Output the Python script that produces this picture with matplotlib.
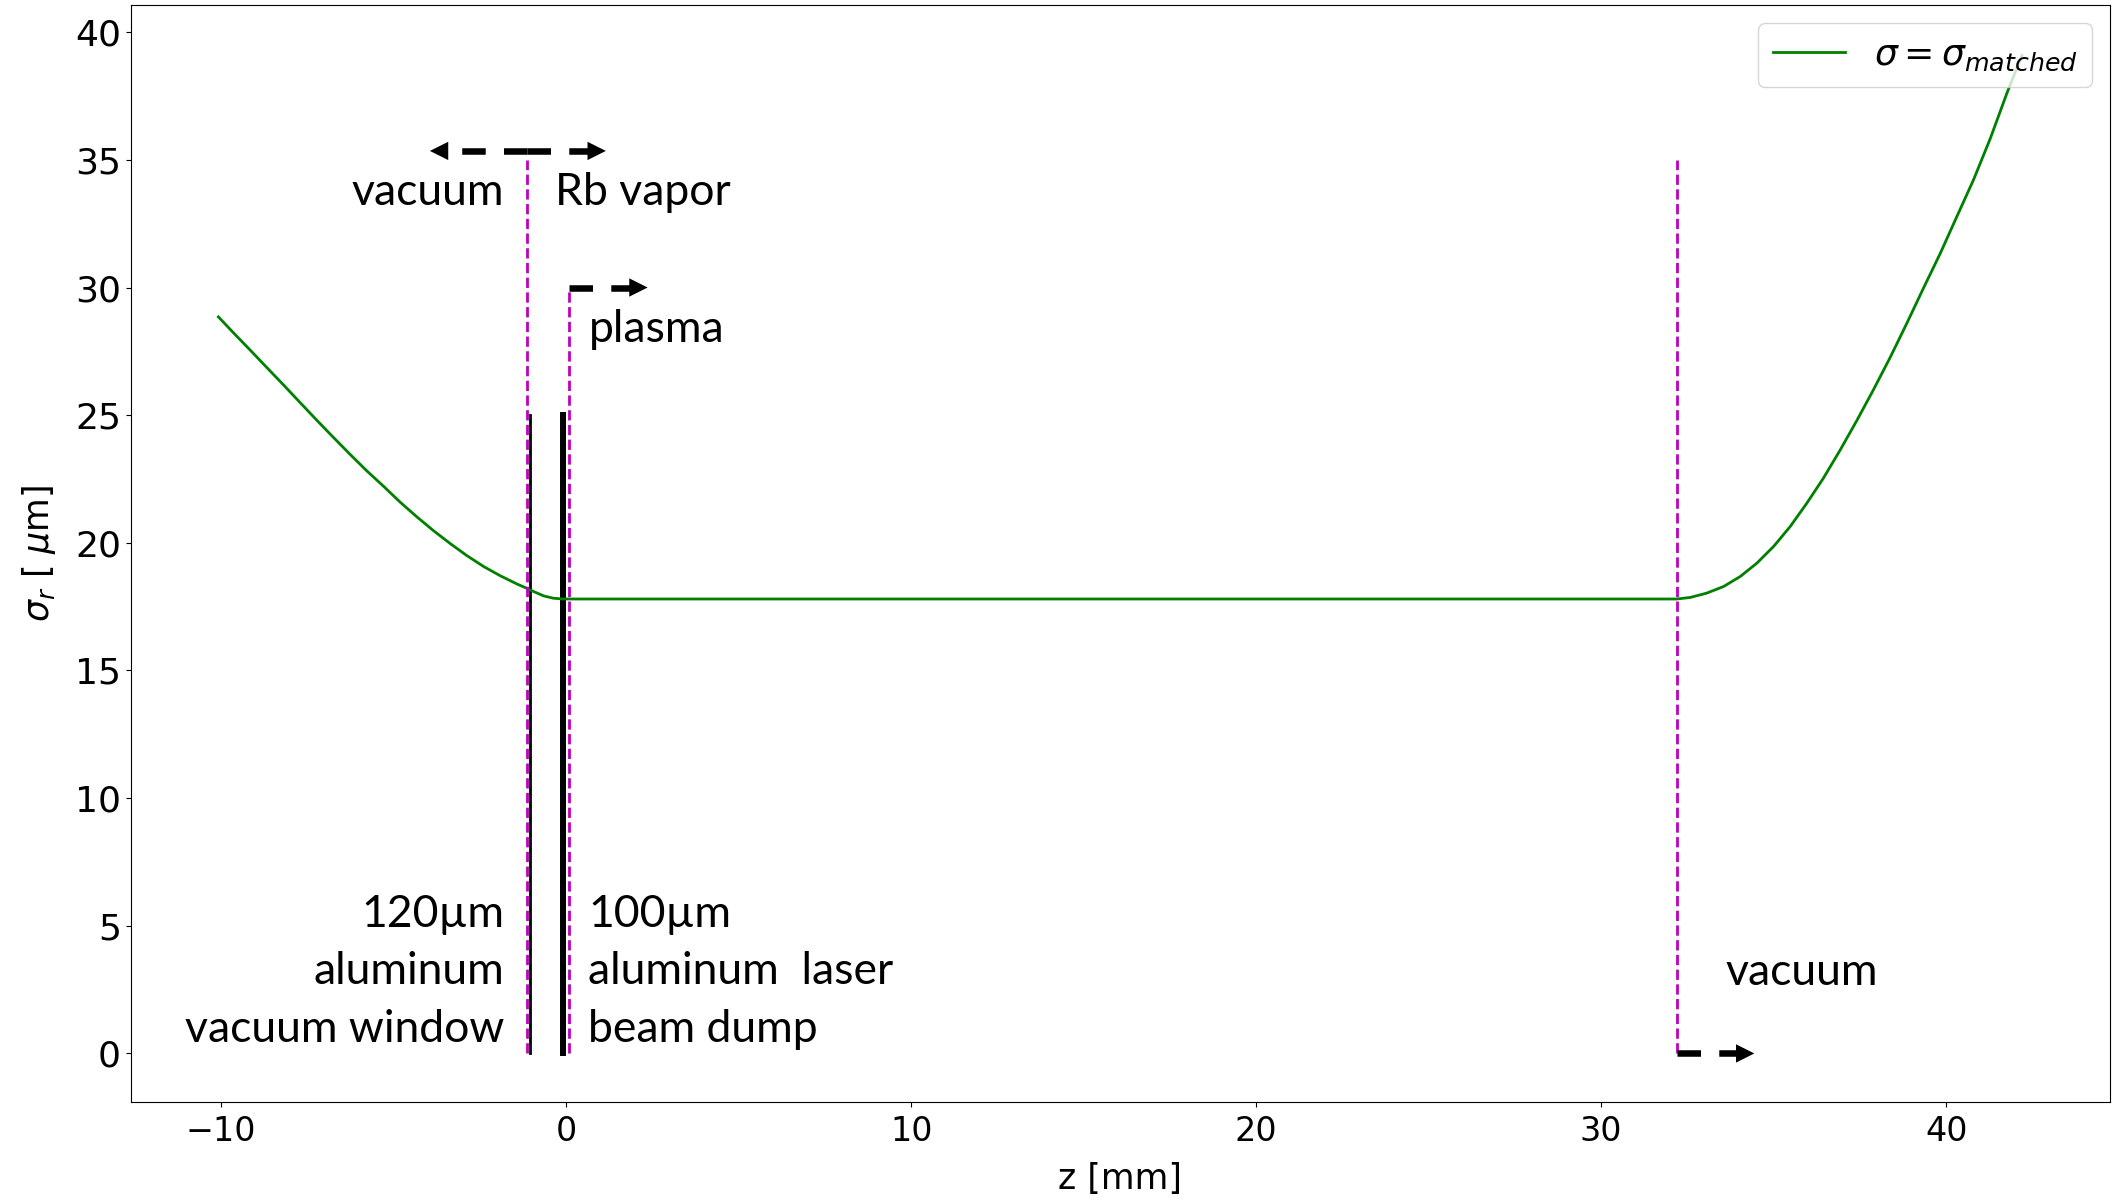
import matplotlib
matplotlib.use('Agg')
import matplotlib.pyplot as plt

# beam size along z
z_mm = [-10.08, -9.64, -9.16, -8.68, -8.19, -7.71, -7.22, -6.74, -6.26, -5.78, -5.29, -4.81,
        -4.33, -3.85, -3.36, -2.88, -2.39, -1.91, -1.43, -1.16, -0.94, -0.65, -0.37, -0.08,
        32.19, 32.58, 33.06, 33.55, 34.03, 34.51, 35.0, 35.48, 35.96, 36.44, 36.93, 37.41,
        37.89, 38.38, 38.86, 39.34, 39.83, 40.31, 40.79, 41.28, 41.76, 42.2]
sigma_um = [28.85, 28.22, 27.55, 26.87, 26.18, 25.49, 24.79, 24.12, 23.46, 22.82, 22.21, 21.59,
            21.02, 20.48, 19.97, 19.5, 19.07, 18.71, 18.39, 18.23, 18.09, 17.92, 17.83, 17.8,
            17.8, 17.86, 18.03, 18.29, 18.68, 19.2, 19.86, 20.64, 21.55, 22.53, 23.64, 24.79,
            25.99, 27.27, 28.6, 29.97, 31.34, 32.78, 34.21, 35.84, 37.61, 39.1]

# boundaries (magenta dashed) and foils (black)
boundary_z = [-1.15, 0.08, 32.2]
boundary_top = [35.0, 30.0, 35.0]
foil_z = [-1.05, -0.08]
foil_top = [25.0, 25.0]
foil_lw = [2.0, 4.3]

# dashed arrows: start z, tip z, height
arrow_start = [-1.15, -1.15, 0.08, 32.2]
arrow_tip = [-3.95, 1.15, 2.36, 34.44]
arrow_y = [35.35, 35.35, 30.0, 0.0]

fig = plt.figure(figsize=(21.13, 12), dpi=100)
ax = fig.add_axes([0.0619, 0.0817, 0.9367, 0.9138])

ax.plot(z_mm, sigma_um, color='g', lw=2, label=r'$\sigma = \sigma_{matched}$')

for z, top in zip(boundary_z, boundary_top):
    ax.plot([z, z], [0, top], '--', color='m', lw=2)
for z, top, lw in zip(foil_z, foil_top, foil_lw):
    ax.plot([z, z], [0, top], '-', color='k', lw=lw, zorder=1.5)

head = 0.5
for z0, z1, y in zip(arrow_start, arrow_tip, arrow_y):
    s = 1 if z1 > z0 else -1
    ax.plot([z0, z1 - s * head], [y, y], color='k', lw=4.7,
            linestyle=(0, (3.6, 2.8)), solid_capstyle='butt')
    ax.annotate('', xy=(z1, y), xytext=(z1 - s * 0.62, y),
                arrowprops=dict(arrowstyle='-|>', color='k', lw=0,
                                shrinkA=0, shrinkB=0, mutation_scale=33))

tfont = dict(family=['Lato', 'DejaVu Sans'], fontsize=32)
ax.text(-1.8, 33.24, 'vacuum', ha='right', va='baseline', **tfont)
ax.text(-0.32, 33.24, 'Rb vapor', ha='left', va='baseline', **tfont)
ax.text(0.67, 27.86, 'plasma', ha='left', va='baseline', **tfont)
ax.text(33.6, 2.69, 'vacuum', ha='left', va='baseline', **tfont)

left_lines = ['120µm', 'aluminum', 'vacuum window']
right_lines = ['100µm', 'aluminum  laser', 'beam dump']
for i, (l, r) in enumerate(zip(left_lines, right_lines)):
    y = 4.96 - i * 2.25
    ax.text(-1.8, y, l, ha='right', va='baseline', **tfont)
    ax.text(0.63, y, r, ha='left', va='baseline', **tfont)

ax.set_xlim(-12.62, 44.75)
ax.set_ylim(-1.9, 41.05)
ax.set_xticks([-10, 0, 10, 20, 30, 40])
ax.set_yticks([0, 5, 10, 15, 20, 25, 30, 35, 40])
ax.tick_params(axis='x', labelsize=24, pad=6)
ax.tick_params(axis='y', labelsize=26)
ax.set_xlabel('z [mm]', fontsize=25, labelpad=10)
ax.set_ylabel(r'$\sigma_r$ [ $\mu$m]', fontsize=25, labelpad=12)
ax.legend(loc='upper right', fontsize=26)

fig.savefig('out.png', dpi=100)
